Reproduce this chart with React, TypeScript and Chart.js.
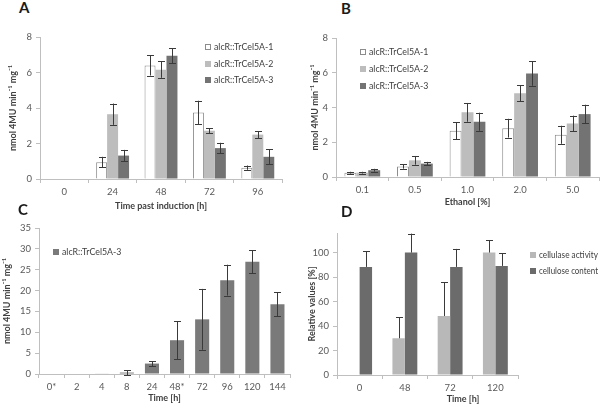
import React, { useEffect, useRef } from 'react';
import { Chart, registerables } from 'chart.js';
Chart.register(...registerables);

// ---------- Panel A ----------
const timeA = ['0', '24', '48', '72', '96'];
const a1 = [0, 0.95, 6.4, 3.75, 0.64];
const a1Err = [0, 0.3, 0.57, 0.66, 0.12];
const a2 = [0, 3.65, 6.16, 2.72, 2.5];
const a2Err = [0, 0.6, 0.46, 0.15, 0.2];
const a3 = [0, 1.32, 6.94, 1.74, 1.25];
const a3Err = [0, 0.32, 0.43, 0.3, 0.42];

// ---------- Panel B ----------
const ethanolB = ['0.1', '0.5', '1.0', '2.0', '5.0'];
const b1 = [0.25, 0.6, 2.66, 2.81, 2.43];
const b1Err = [0.05, 0.12, 0.5, 0.54, 0.52];
const b2 = [0.25, 0.96, 3.72, 4.82, 3.08];
const b2Err = [0.05, 0.25, 0.54, 0.45, 0.45];
const b3 = [0.39, 0.77, 3.18, 5.95, 3.62];
const b3Err = [0.08, 0.1, 0.52, 0.7, 0.54];

// ---------- Panel C ----------
const timeC = ['0*', '2', '4', '8', '24', '48*', '72', '96', '120', '144'];
const c3 = [0, 0, 0.1, 0.35, 2.5, 8.1, 13.1, 22.5, 26.9, 16.7];
const c3Err = [0, 0, 0, 0.6, 0.6, 4.5, 7.3, 3.7, 2.8, 2.9];

// ---------- Panel D ----------
const timeD = ['0', '48', '72', '120'];
const dActivity = [0, 30, 48.2, 100];
const dActivityErr = [0, 17, 27.5, 10];
const dContent = [88.3, 100, 88.3, 89.1];
const dContentErr = [12.8, 15.5, 14.7, 10.4];

const seriesNames = ['alcR::TrCel5A-1', 'alcR::TrCel5A-2', 'alcR::TrCel5A-3'];
const dNames = ['cellulase activity', 'cellulose content'];

const WHITE = '#ffffff';
const WHITE_BORDER = '#8c8c8c';
const LIGHT = '#bdbdbd';
const DARK = '#737373';
const DARK_C = '#7a7a7a';
const DARK_D = '#6b6b6b';
const TEXT = '#404040';
const AXIS = '#bfbfbf';
const FONT = 'Lato, "Open Sans", "DejaVu Sans", sans-serif';

const errorBars = {
  id: 'errorBars',
  afterDatasetsDraw(chart: any) {
    const ctx = chart.ctx;
    const yScale = chart.scales.y;
    chart.data.datasets.forEach((ds: any, i: number) => {
      const errs = ds.errors;
      if (!errs) return;
      const meta = chart.getDatasetMeta(i);
      meta.data.forEach((bar: any, j: number) => {
        const v = ds.data[j];
        const e = errs[j];
        if (!e) return;
        const x = bar.x;
        const yt = yScale.getPixelForValue(v + e);
        const yb = yScale.getPixelForValue(ds.upperOnly ? v : v - e);
        const cap = 3.5;
        ctx.save();
        ctx.strokeStyle = '#3a3a3a';
        ctx.lineWidth = 1;
        ctx.beginPath();
        const xx = Math.round(x) + 0.5;
        ctx.moveTo(xx, yt);
        ctx.lineTo(xx, yb);
        ctx.moveTo(xx - cap, Math.round(yt) + 0.5);
        ctx.lineTo(xx + cap, Math.round(yt) + 0.5);
        if (!ds.upperOnly) {
          ctx.moveTo(xx - cap, Math.round(yb) + 0.5);
          ctx.lineTo(xx + cap, Math.round(yb) + 0.5);
        }
        ctx.stroke();
        ctx.restore();
      });
    });
  },
};

const boxLegend = {
  id: 'boxLegend',
  afterDraw(chart: any, _args: any, opts: any) {
    if (!opts || opts.x === undefined) return;
    const ctx = chart.ctx;
    ctx.save();
    ctx.font = `${opts.size}px ${FONT}`;
    ctx.textBaseline = 'middle';
    chart.data.datasets.forEach((ds: any, i: number) => {
      const cy = Math.round(opts.y + i * opts.gap);
      const bx = opts.x;
      const s = opts.box;
      ctx.fillStyle = ds.backgroundColor;
      ctx.fillRect(bx, cy - s / 2, s, s);
      if (ds.borderWidth) {
        ctx.strokeStyle = ds.borderColor;
        ctx.lineWidth = 1;
        ctx.strokeRect(bx + 0.5, cy - s / 2 + 0.5, s - 1, s - 1);
      }
      ctx.fillStyle = TEXT;
      ctx.textAlign = 'left';
      if (opts.maxWidth) ctx.fillText(ds.label, bx + s + 3, cy, opts.maxWidth);
      else ctx.fillText(ds.label, bx + s + 3, cy);
    });
    ctx.restore();
  },
};

const freeText = {
  id: 'freeText',
  afterDraw(chart: any, _args: any, opts: any) {
    if (!opts || !opts.text) return;
    const ctx = chart.ctx;
    ctx.save();
    ctx.font = `bold ${opts.size}px ${FONT}`;
    ctx.fillStyle = TEXT;
    ctx.textAlign = 'center';
    ctx.textBaseline = 'middle';
    ctx.fillText(opts.text, opts.x, opts.y);
    ctx.restore();
  },
};

type P = {
  labels: string[];
  datasets: any[];
  yMax: number;
  yStep: number;
  yTitle: string;
  xTitle?: string;
  yWidth: number;
  xHeight: number;
  padTop: number;
  padRight: number;
  yTitlePad: number;
  catPct: number;
  legend: any;
  free?: any;
};

function makeConfig(p: P): any {
  return {
    type: 'bar',
    data: { labels: p.labels, datasets: p.datasets },
    plugins: [errorBars, boxLegend, freeText],
    options: {
      responsive: false,
      animation: false,
      devicePixelRatio: 1,
      layout: { padding: { top: p.padTop, right: p.padRight, left: 0, bottom: 0 } },
      datasets: { bar: { categoryPercentage: p.catPct, barPercentage: 1 } },
      plugins: {
        legend: { display: false },
        tooltip: { enabled: false },
        boxLegend: p.legend,
        freeText: p.free || {},
      },
      scales: {
        x: {
          grid: {
            display: true,
            drawOnChartArea: false,
            drawTicks: true,
            tickLength: 4,
            color: AXIS,
            offset: true,
          },
          border: { display: true, color: AXIS },
          ticks: { color: '#595959', font: { family: FONT, size: 9.5 }, padding: 3, maxRotation: 0, autoSkip: false },
          title: p.xTitle
            ? { display: true, text: p.xTitle, color: TEXT, font: { family: FONT, size: 9, weight: 'bold' }, padding: { top: 0, bottom: 0 } }
            : { display: false },
          afterFit: (s: any) => {
            s.height = p.xHeight;
          },
        },
        y: {
          min: 0,
          max: p.yMax,
          grid: { display: true, drawOnChartArea: false, drawTicks: true, tickLength: 4, color: AXIS },
          border: { display: true, color: AXIS },
          ticks: { stepSize: p.yStep, includeBounds: false, color: '#595959', font: { family: FONT, size: 9.5 }, padding: 4 },
          title: {
            display: true,
            text: p.yTitle,
            color: TEXT,
            font: { family: FONT, size: 9, weight: 'bold' },
            padding: { top: p.yTitlePad, bottom: 0 },
          },
          afterFit: (s: any) => {
            s.width = p.yWidth;
          },
        },
      },
    },
  };
}

function Panel({ left, top, width, height, config }: any) {
  const ref = useRef<HTMLCanvasElement>(null);
  useEffect(() => {
    const chart = new Chart(ref.current as HTMLCanvasElement, config);
    return () => chart.destroy();
  }, []);
  return (
    <canvas
      ref={ref}
      width={width}
      height={height}
      style={{ position: 'absolute', left, top, width, height }}
    />
  );
}

const yUnit = 'nmol 4MU min\u207B\u00B9 mg\u207B\u00B9';

const threeSeries = (d1: number[], e1: number[], d2: number[], e2: number[], d3: number[], e3: number[]) => [
  { label: seriesNames[0], data: d1, errors: e1, backgroundColor: WHITE, borderColor: WHITE_BORDER, borderWidth: 1 },
  { label: seriesNames[1], data: d2, errors: e2, backgroundColor: LIGHT, borderWidth: 0 },
  { label: seriesNames[2], data: d3, errors: e3, backgroundColor: DARK, borderWidth: 0 },
];

const configA = makeConfig({
  labels: timeA,
  datasets: threeSeries(a1, a1Err, a2, a2Err, a3, a3Err),
  yMax: 8,
  yStep: 2,
  yTitle: yUnit,
  xTitle: 'Time past induction [h]',
  yWidth: 40,
  xHeight: 32,
  padTop: 12,
  padRight: 10,
  yTitlePad: 7.5,
  catPct: 0.68,
  legend: { x: 205, y: 22, gap: 16.5, box: 6, size: 8.8 },
});

const configB = makeConfig({
  labels: ethanolB,
  datasets: threeSeries(b1, b1Err, b2, b2Err, b3, b3Err),
  yMax: 8,
  yStep: 2,
  yTitle: yUnit,
  xTitle: 'Ethanol [%]',
  yWidth: 36,
  xHeight: 30,
  padTop: 13,
  padRight: 1,
  yTitlePad: 9.5,
  catPct: 0.68,
  legend: { x: 60, y: 27, gap: 17, box: 6, size: 8.8 },
});

const configC = makeConfig({
  labels: timeC,
  datasets: [{ label: 'alcR::TrCel5A-3', data: c3, errors: c3Err, backgroundColor: DARK_C, borderWidth: 0 }],
  yMax: 35,
  yStep: 5,
  yTitle: yUnit,
  xTitle: 'Time [h]',
  yWidth: 39,
  xHeight: 29,
  padTop: 13,
  padRight: 5,
  yTitlePad: 1.5,
  catPct: 0.56,
  legend: { x: 53, y: 37, gap: 17, box: 6, size: 8.8 },
});

const configD = makeConfig({
  labels: timeD,
  datasets: [
    { label: dNames[0], data: dActivity, errors: dActivityErr, upperOnly: true, backgroundColor: '#b8b8b8', borderWidth: 0 },
    { label: dNames[1], data: dContent, errors: dContentErr, upperOnly: true, backgroundColor: DARK_D, borderWidth: 0 },
  ],
  yMax: 116,
  yStep: 20,
  yTitle: 'Relative values [%]',
  yWidth: 37,
  xHeight: 30,
  padTop: 18,
  padRight: 82,
  yTitlePad: 6.5,
  catPct: 0.55,
  legend: { x: 230, y: 40, gap: 16, box: 6, size: 8.8, maxWidth: 59 },
  free: { text: 'Time [h]', x: 163, y: 184, size: 9 },
});

const letter = (t: string, left: number, top: number) => (
  <div
    style={{
      position: 'absolute',
      left,
      top,
      fontFamily: FONT,
      fontWeight: 'bold',
      fontSize: 15,
      lineHeight: '15px',
      color: '#1a1a1a',
    }}
  >
    {t}
  </div>
);

export default function App() {
  return (
    <div style={{ position: 'fixed', left: 0, top: 0, width: 600, height: 405, background: '#ffffff', overflow: 'hidden' }}>
      <Panel left={0} top={25} width={292} height={186} config={configA} />
      <Panel left={300} top={25} width={300} height={182} config={configB} />
      <Panel left={0} top={215} width={295} height={188} config={configC} />
      <Panel left={300} top={215} width={300} height={190} config={configD} />
      {letter('A', 19, 0)}
      {letter('B', 341, 1)}
      {letter('C', 18, 202)}
      {letter('D', 341, 204)}
    </div>
  );
}
